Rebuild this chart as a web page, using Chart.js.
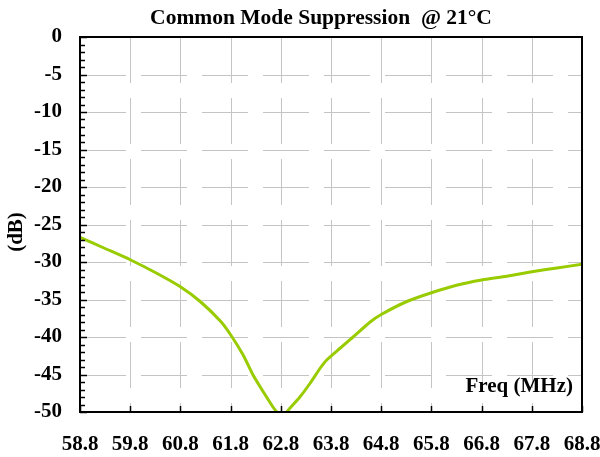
<!DOCTYPE html>
<html>
<head>
<meta charset="utf-8">
<script src="https://cdn.jsdelivr.net/npm/chart.js@4"></script>
<style>
  body { margin: 0; background: #fff; }
  #wrap { width: 600px; height: 457px; }
</style>
</head>
<body>
<div id="wrap"><canvas id="cmChart" width="600" height="457"></canvas></div>
<script>
// values
const freqMHz = [58.8, 59.3, 59.8, 60.3, 60.8, 61.2, 61.6, 61.8, 62.05, 62.25, 62.45, 62.65, 62.75, 62.9, 62.98, 63.18, 63.38, 63.58, 63.71, 63.98, 64.24, 64.58, 64.8, 65.3, 65.8, 66.3, 66.8, 67.3, 67.8, 68.3, 68.8];
const suppressionDb = [-26.7, -28.2, -29.7, -31.4, -33.3, -35.3, -37.9, -39.7, -42.4, -45.1, -47.3, -49.4, -50.1, -50.1, -49.5, -48.0, -46.2, -44.2, -43.1, -41.5, -40.0, -38.0, -37.0, -35.3, -34.1, -33.1, -32.4, -31.9, -31.3, -30.8, -30.3];
const xTicks = [58.8, 59.8, 60.8, 61.8, 62.8, 63.8, 64.8, 65.8, 66.8, 67.8, 68.8];
const yTicks = [0, -5, -10, -15, -20, -25, -30, -35, -40, -45, -50];

const serif = '"Liberation Serif", "Times New Roman", serif';

// dashed grid, border, inward ticks and titles
const framePlugin = {
  id: 'frame',
  beforeDatasetsDraw(chart) {
    const { ctx, chartArea: { left, top, right, bottom }, scales: { x, y } } = chart;
    ctx.save();
    ctx.strokeStyle = '#c4c4c4';
    ctx.lineWidth = 1;
    ctx.setLineDash([46, 15]);
    xTicks.slice(1, -1).forEach(v => {
      const px = Math.round(x.getPixelForValue(v)) + 0.5;
      ctx.beginPath();
      ctx.moveTo(px, top);
      ctx.lineTo(px, bottom);
      ctx.stroke();
    });
    yTicks.slice(1, -1).forEach(v => {
      const py = Math.round(y.getPixelForValue(v)) + 0.5;
      ctx.beginPath();
      ctx.moveTo(left, py);
      ctx.lineTo(right, py);
      ctx.stroke();
    });
    ctx.restore();
  },
  afterDatasetsDraw(chart) {
    const { ctx, chartArea: { left, top, right, bottom }, scales: { x, y } } = chart;
    ctx.save();
    ctx.strokeStyle = '#000';
    ctx.lineWidth = 1.5;
    // minor ticks every 1 dB, longer on the 5s
    for (let v = 0; v >= -50; v--) {
      const py = Math.round(y.getPixelForValue(v)) + 0.5;
      const len = v % 5 === 0 ? 7 : 5;
      ctx.beginPath();
      ctx.moveTo(left, py);
      ctx.lineTo(left + len, py);
      ctx.stroke();
    }
    xTicks.forEach(v => {
      const px = Math.round(x.getPixelForValue(v)) + 0.5;
      ctx.beginPath();
      ctx.moveTo(px, bottom);
      ctx.lineTo(px, bottom - 6);
      ctx.stroke();
    });
    ctx.lineWidth = 2;
    ctx.strokeRect(left, top, right - left, bottom - top);

    ctx.fillStyle = '#000';
    ctx.font = 'bold 21.5px ' + serif;
    ctx.textAlign = 'center';
    ctx.textBaseline = 'middle';
    ctx.fillText('Common Mode Suppression  @ 21°C', 321, 18);

    ctx.font = 'bold 21px ' + serif;
    ctx.textAlign = 'right';
    ctx.textBaseline = 'alphabetic';
    ctx.fillText('Freq (MHz)', 573, 392);

    ctx.translate(17, 232);
    ctx.rotate(-Math.PI / 2);
    ctx.textAlign = 'center';
    ctx.textBaseline = 'middle';
    ctx.fillText('(dB)', 0, 0);
    ctx.restore();
  }
};

new Chart(document.getElementById('cmChart'), {
  type: 'line',
  data: {
    datasets: [{
      data: freqMHz.map((f, i) => ({ x: f, y: suppressionDb[i] })),
      borderColor: '#99cc00',
      borderWidth: 3,
      pointRadius: 0,
      tension: 0.2,
      fill: false
    }]
  },
  options: {
    responsive: false,
    animation: false,
    layout: { padding: { top: 37, right: 18, left: 0, bottom: 0 } },
    plugins: {
      legend: { display: false },
      title: { display: false },
      tooltip: { enabled: false }
    },
    scales: {
      x: {
        type: 'linear',
        min: 58.8,
        max: 68.8,
        afterBuildTicks: s => { s.ticks = xTicks.map(v => ({ value: v })); },
        afterFit: s => { s.height = 45; s.paddingLeft = 0; s.paddingRight = 0; },
        grid: { display: false, drawTicks: false },
        border: { display: false },
        ticks: {
          autoSkip: false,
          maxRotation: 0,
          padding: 20,
          color: '#000',
          font: { family: serif, size: 21, weight: 'bold' },
          callback: v => Number(v).toFixed(1)
        }
      },
      y: {
        min: -50,
        max: 0,
        afterBuildTicks: s => { s.ticks = yTicks.map(v => ({ value: v })); },
        afterFit: s => { s.width = 80; s.paddingTop = 0; s.paddingBottom = 0; },
        grid: { display: false, drawTicks: false },
        border: { display: false },
        ticks: {
          padding: 18,
          color: '#000',
          font: { family: serif, size: 21, weight: 'bold' }
        }
      }
    }
  },
  plugins: [framePlugin]
});
</script>
</body>
</html>
